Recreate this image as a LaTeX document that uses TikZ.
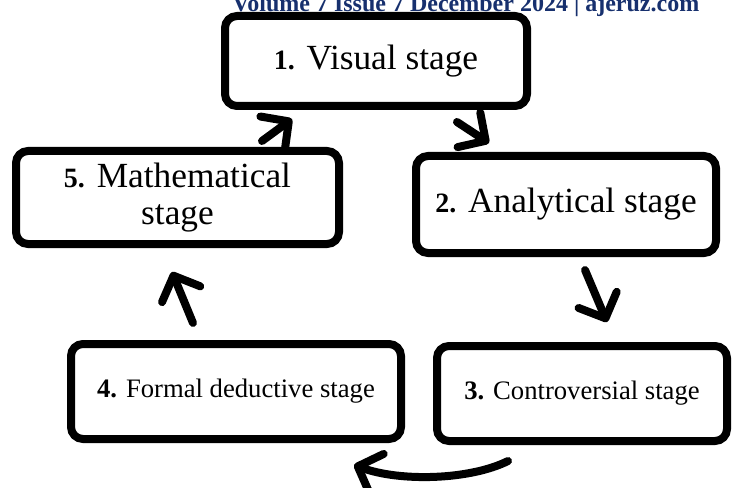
\documentclass[tikz,border=0pt]{standalone}
\usepackage{fontspec}
\setmainfont{Liberation Serif}
\usetikzlibrary{arrows.meta}
\definecolor{hdrblue}{RGB}{23,48,110}
\tikzset{
  stagebox/.style={draw, line width=6pt, rounded corners=9pt, align=center, inner sep=0pt},
  bigtext/.style={font=\fontsize{26.5}{27.75}\selectfont},
  smalltext/.style={font=\fontsize{20}{24}\selectfont},
  cyclearrow/.style={line width=6pt, line cap=round, -{Straight Barb[length=15pt,width=31pt,round]}}
}
\newcommand{\bignum}[1]{{\fontsize{21}{24}\selectfont\bfseries #1}}

\begin{document}
\begin{tikzpicture}[x=0.75pt,y=-0.75pt]
\useasboundingbox (0,0) rectangle (734,488);
\node[anchor=base west, text=hdrblue, font=\fontsize{18}{20}\selectfont\bfseries, inner sep=0pt] (hdr) at (232,12) {Volume 7 Issue 7 December 2024 | ajeruz.com};
\node[stagebox, bigtext, minimum width=226.5pt, minimum height=67.5pt] (visual) at (376,61) {\bignum{1.} Visual stage};
\node[stagebox, bigtext, minimum width=225pt, minimum height=72.75pt] (analytic) at (566,204.5) {\bignum{2.} Analytical stage};
\node[stagebox, smalltext, minimum width=217.5pt, minimum height=71.25pt] (contro) at (582,393.5) {\textbf{3.} Controversial stage};
\node[stagebox, smalltext, minimum width=247.5pt, minimum height=71.25pt] (formal) at (236,391.5) {\textbf{4.} Formal deductive stage};
\node[stagebox, bigtext, minimum width=242.25pt, minimum height=69.75pt] (math) at (177.5,197.5) {\bignum{5.} Mathematical\\stage};
\coordinate (s51) at (262,141);
\coordinate (e51) at (292,119);
\coordinate (s12) at (457,122);
\coordinate (e12) at (489,143);
\coordinate (s23) at (585,270);
\coordinate (e23) at (607,322);
\coordinate (s34) at (508,461);
\coordinate (e34) at (354,465);
\coordinate (s45) at (193,323);
\coordinate (e45) at (172,272);
\draw[cyclearrow] (s51) -- (e51);
\draw[cyclearrow] (s12) -- (e12);
\draw[cyclearrow] (s23) -- (e23);
\draw[cyclearrow] (s34) .. controls (470,480) and (400,482) .. (e34);
\draw[cyclearrow] (s45) -- (e45);
\end{tikzpicture}
\end{document}
